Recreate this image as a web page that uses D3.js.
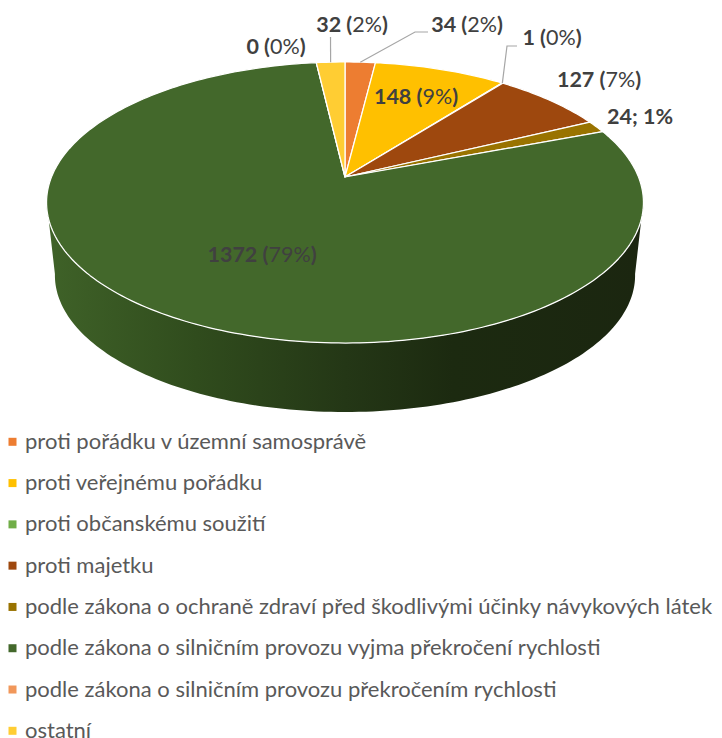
<!DOCTYPE html>
<meta charset="utf-8">
<style>
html, body { margin: 0; background: #fff; }
svg { display: block; }
text { font-family: Lato, "Open Sans", sans-serif; }
</style>
<svg width="722" height="738"></svg>
<script src="https://d3js.org/d3.v7.min.js"></script>
<script>

var categories = [
  "proti pořádku v územní samosprávě",
  "proti veřejnému pořádku",
  "proti občanskému soužití",
  "proti majetku",
  "podle zákona o ochraně zdraví před škodlivými účinky návykových látek",
  "podle zákona o silničním provozu vyjma překročení rychlosti",
  "podle zákona o silničním provozu překročením rychlosti",
  "ostatní"
];
var values = [34, 148, 1, 127, 24, 1372, 0, 32];
var colors = ["#ED7D31", "#FFC000", "#70AD47", "#9E480E", "#997300", "#43682B", "#F1975A", "#FFCD33"];

// label centre and baseline, same order as categories
var labelX = [467, 416, 552, 599, 640, 262, 276, 352];
var labelY = [32, 104, 45, 87, 124, 262, 54, 32];
// only the small slices get a leader line, the elbow is [x, y] or null
var leaders = [[[415, 32], [428, 32]], null, [[507, 46], [517, 46]], null, null, null, null, [[330.5, 37]]];

var svg = d3.select("svg");
var total = d3.sum(values);
var pct = d3.format(".0%");

// pie is tilted with perspective: the centre is not the middle of the ellipse
var cx = 345, cy = 177, rx = 293.5, ry = 135.9, persp = 0.1814;
var depthScale = 0.972, depthShift = 78.6;

function project(a, bottom) {
  var X = Math.sin(a), Y = -Math.cos(a);
  var w = 1 - persp * Y;
  var px = cx + rx * X / w, py = cy + ry * Y / w;
  if (bottom) {
    px = cx + (px - cx) * depthScale;
    py = py * depthScale + depthShift;
  }
  return [px, py];
}

function sweep(a0, a1, bottom) {
  var n = Math.max(1, Math.ceil(Math.abs(a1 - a0) / 0.02));
  return d3.range(n + 1).map(function(i) {
    return project(a0 + (a1 - a0) * i / n, bottom);
  });
}

var line = d3.line();
var arcs = d3.pie().sort(null)(values);

var grad = svg.append("defs").append("linearGradient")
    .attr("id", "side")
    .attr("gradientUnits", "userSpaceOnUse")
    .attr("x1", 47).attr("x2", 644).attr("y1", 0).attr("y2", 0);
grad.selectAll("stop")
    .data([[0, "#3f6228"], [0.25, "#304c1d"], [0.5, "#243716"], [0.68, "#1c2a10"], [1, "#1b2610"]])
  .join("stop")
    .attr("offset", function(d) { return d[0]; })
    .attr("stop-color", function(d) { return d[1]; });

// side wall, from the widest point on one side round the front to the other
var wallFrom = Math.PI * 0.555, wallTo = Math.PI * 1.445;
svg.append("path")
    .attr("d", line(sweep(wallFrom, wallTo, false).concat(sweep(wallTo, wallFrom, true))) + "Z")
    .attr("fill", "url(#side)");

svg.append("g").selectAll("path")
    .data(arcs)
  .join("path")
    .attr("d", function(d) {
      return line([[cx, cy]].concat(sweep(d.startAngle, d.endAngle, false))) + "Z";
    })
    .attr("fill", function(d, i) { return colors[i]; })
    .attr("stroke", "#fff")
    .attr("stroke-width", 1.25)
    .attr("stroke-linejoin", "round");

// leader lines
svg.append("g").selectAll("path")
    .data(arcs.filter(function(d) { return leaders[d.index]; }))
  .join("path")
    .attr("d", function(d) {
      var mid = (d.startAngle + d.endAngle) / 2;
      return line([project(mid, false)].concat(leaders[d.index]));
    })
    .attr("fill", "none")
    .attr("stroke", "#a6a6a6")
    .attr("stroke-width", 1.2);

// data labels
var labels = svg.append("g").selectAll("text")
    .data(values)
  .join("text")
    .attr("x", function(d, i) { return labelX[i]; })
    .attr("y", function(d, i) { return labelY[i]; })
    .attr("text-anchor", "middle")
    .attr("font-size", 21.5)
    .attr("fill", "#404040");

labels.each(function(d, i) {
  var t = d3.select(this);
  if (i == 4) {
    // this one has the default format in the original
    t.append("tspan").attr("font-weight", 700).text(d + "; " + pct(d / total));
    return;
  }
  t.append("tspan").attr("font-weight", 700).text(d + " (");
  t.append("tspan").text(pct(d / total));
  t.append("tspan").attr("font-weight", 700).text(")");
});

// legend
var rowY = d3.scalePoint().domain(categories).range([441.8, 730.8]);
var legend = svg.append("g").selectAll("g")
    .data(categories)
  .join("g")
    .attr("transform", function(d) { return "translate(0," + rowY(d) + ")"; });

legend.append("rect")
    .attr("x", 8.5).attr("y", -4)
    .attr("width", 8).attr("height", 8)
    .attr("fill", function(d, i) { return colors[i]; });

legend.append("text")
    .attr("x", 25).attr("y", 7)
    .attr("font-size", 22)
    .attr("fill", "#595959")
    .text(function(d) { return d; });

</script>
